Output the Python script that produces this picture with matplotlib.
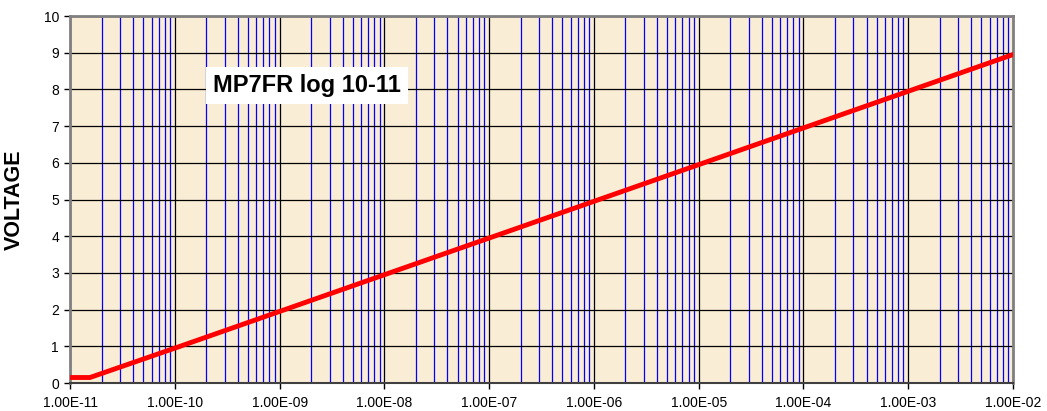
import matplotlib
matplotlib.use('Agg')
import matplotlib.pyplot as plt
import matplotlib.ticker as mticker
import numpy as np

plt.rcParams['font.family'] = ['Liberation Sans', 'DejaVu Sans']

# data
current = [1e-11, 1.55e-11, 1e-10, 1e-9, 1e-8, 1e-7, 1e-6, 1e-5, 1e-4, 1e-3, 1e-2]
voltage = [0.15, 0.15, 0.95, 1.95, 2.95, 3.95, 4.95, 5.95, 6.95, 7.95, 8.95]
x_decades = [1e-11, 1e-10, 1e-9, 1e-8, 1e-7, 1e-6, 1e-5, 1e-4, 1e-3, 1e-2]
y_ticks = list(range(0, 11))
title_text = 'MP7FR log 10-11'
y_label = 'VOLTAGE'

fig = plt.figure(figsize=(10.47, 4.11), dpi=100)
ax = fig.add_axes([0.0669, 0.0681, 0.9006, 0.8929])
ax.set_facecolor('#FAEDD6')

ax.set_xscale('log')
ax.set_xlim(1e-11, 1e-2)
ax.set_ylim(0, 10)

# minor lines at 2..9 within each decade
minor_x = [d * m for d in x_decades[:-1] for m in range(2, 10)]
ax.set_xticks(x_decades)
ax.set_xticklabels([f'{v:.2E}' for v in x_decades])
ax.set_xticks(minor_x, minor=True)
ax.xaxis.set_minor_formatter(mticker.NullFormatter())
ax.set_yticks(y_ticks)

ax.grid(which='minor', axis='x', color='#0000FF', linewidth=0.9)
ax.grid(which='major', axis='x', color='black', linewidth=0.9)
ax.grid(which='major', axis='y', color='black', linewidth=0.9)
ax.set_axisbelow(True)

ax.tick_params(axis='both', which='major', direction='out', length=4, width=1,
               color='black', labelsize=10)
ax.tick_params(axis='x', which='major', pad=5)
ax.tick_params(axis='y', which='major', pad=4)
ax.tick_params(axis='x', which='minor', length=0)

for side in ['top', 'right', 'left']:
    ax.spines[side].set_color('#808080')
    ax.spines[side].set_linewidth(2)
ax.spines['bottom'].set_color('#404040')
ax.spines['bottom'].set_linewidth(1.5)

ax.plot(current, voltage, color='#FF0000', linewidth=3.5, zorder=5)

ax.set_ylabel(y_label, fontsize=15.5, fontweight='bold')
ax.yaxis.set_label_coords(-0.0477, 0.5)

ax.text(0.251, 0.81, title_text, transform=ax.transAxes, fontsize=17,
        fontweight='bold', ha='center', va='center', zorder=6,
        bbox=dict(facecolor='white', edgecolor='none', pad=5))

fig.savefig('out.png', dpi=100, facecolor='white')
